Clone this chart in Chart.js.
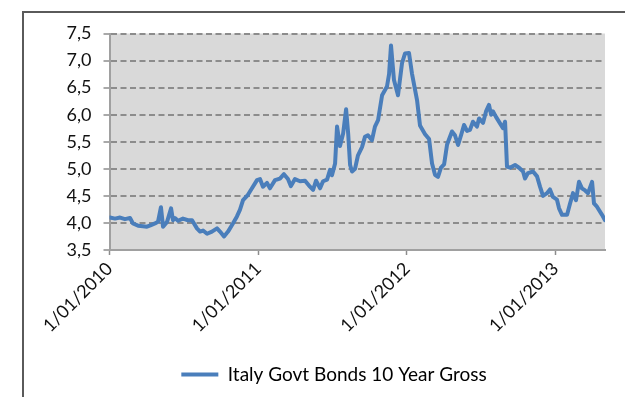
<!DOCTYPE html>
<html>
<head>
<meta charset="utf-8">
<script src="https://cdn.jsdelivr.net/npm/chart.js@4"></script>
<style>
  html, body { margin: 0; padding: 0; background: #fff; }
  .wrap { position: relative; width: 625px; height: 397px; overflow: hidden; }
  .frame { position: absolute; left: 22px; top: 11px; width: 700px; height: 500px;
           border-top: 2px solid #5a5a5a; border-left: 2px solid #5a5a5a; }
  canvas { position: absolute; left: 0; top: 0; }
</style>
</head>
<body>
<div class="wrap">
  <div class="frame"></div>
  <canvas id="bonds_chart" width="625" height="397"></canvas>
</div>
<script>
// fraction of year since 1 Jan 2010
const years = [
    0.003, 0.037, 0.071, 0.104, 0.138, 0.158, 0.192, 0.225, 0.252, 0.279,
    0.306, 0.326, 0.346, 0.360, 0.387, 0.414, 0.427, 0.440, 0.461, 0.494,
    0.528, 0.555, 0.588, 0.609, 0.629, 0.656, 0.689, 0.723, 0.743, 0.770,
    0.797, 0.830, 0.857, 0.877, 0.898, 0.931, 0.958, 0.992, 1.012, 1.032,
    1.059, 1.079, 1.113, 1.146, 1.173, 1.200, 1.220, 1.247, 1.281, 1.315,
    1.348, 1.369, 1.389, 1.416, 1.436, 1.463, 1.483, 1.496, 1.517, 1.530,
    1.550, 1.571, 1.591, 1.605, 1.618, 1.631, 1.651, 1.671, 1.698, 1.718,
    1.738, 1.765, 1.785, 1.806, 1.833, 1.866, 1.880, 1.893, 1.913, 1.940,
    1.967, 1.987, 2.014, 2.034, 2.068, 2.088, 2.122, 2.149, 2.169, 2.189,
    2.209, 2.229, 2.250, 2.270, 2.303, 2.323, 2.344, 2.364, 2.384, 2.404,
    2.424, 2.444, 2.471, 2.485, 2.512, 2.532, 2.552, 2.566, 2.579, 2.599,
    2.626, 2.646, 2.660, 2.673, 2.693, 2.727, 2.754, 2.781, 2.794, 2.814,
    2.848, 2.875, 2.895, 2.915, 2.942, 2.962, 2.982, 3.009, 3.023, 3.043,
    3.077, 3.097, 3.117, 3.137, 3.157, 3.177, 3.198, 3.218, 3.245, 3.258,
    3.278, 3.312, 3.332
]

// yield in percent
const yields = [
    4.10, 4.08, 4.10, 4.07, 4.09, 3.99, 3.95, 3.94, 3.93, 3.96,
    3.99, 4.02, 4.29, 3.93, 4.02, 4.27, 4.05, 4.09, 4.04, 4.08,
    4.05, 4.05, 3.90, 3.84, 3.86, 3.80, 3.84, 3.90, 3.84, 3.75,
    3.84, 3.99, 4.12, 4.24, 4.42, 4.52, 4.64, 4.79, 4.81, 4.67,
    4.74, 4.64, 4.79, 4.82, 4.90, 4.81, 4.68, 4.81, 4.77, 4.78,
    4.67, 4.61, 4.78, 4.64, 4.77, 4.80, 4.98, 4.88, 5.10, 5.78,
    5.42, 5.65, 6.10, 5.65, 5.07, 4.95, 5.00, 5.25, 5.40, 5.59,
    5.62, 5.53, 5.78, 5.90, 6.36, 6.52, 6.75, 7.28, 6.64, 6.36,
    6.95, 7.13, 7.14, 6.76, 6.27, 5.80, 5.64, 5.55, 5.10, 4.89,
    4.85, 5.02, 5.08, 5.45, 5.69, 5.62, 5.44, 5.62, 5.81, 5.70,
    5.72, 5.87, 5.78, 5.93, 5.85, 6.06, 6.18, 6.00, 6.06, 5.96,
    5.84, 5.75, 5.87, 5.04, 5.02, 5.07, 5.02, 4.95, 4.82, 4.92,
    4.95, 4.86, 4.67, 4.50, 4.55, 4.62, 4.48, 4.43, 4.27, 4.15,
    4.15, 4.36, 4.55, 4.42, 4.76, 4.64, 4.60, 4.55, 4.76, 4.36,
    4.30, 4.15, 4.05
]

const startYear = 2010
const tickYears = [2010, 2011, 2012, 2013]
const yTicks = [3.5, 4.0, 4.5, 5.0, 5.5, 6.0, 6.5, 7.0, 7.5]
const seriesLabel = 'Italy Govt Bonds 10 Year Gross'

const blue = '#4a7ebb'
const textColor = '#111111'
const font = "Lato, 'Open Sans', sans-serif"

const plotBackground = {
    id: 'plotBackground',
    beforeDraw(chart) {
        const { ctx, chartArea } = chart
        ctx.save()
        ctx.fillStyle = '#d9d9d9'
        ctx.fillRect(chartArea.left, chartArea.top, chartArea.right - chartArea.left, chartArea.bottom - chartArea.top)
        ctx.restore()
    }
}

// legend sits a bit right of the canvas centre
const legendShift = {
    id: 'legendShift',
    afterLayout(chart) {
        chart.legend.left += 20
        chart.legend.right += 20
    }
}

const data = {
    datasets: [{
        label: seriesLabel,
        data: years.map((y, i) => ({ x: startYear + y, y: yields[i] })),
        borderColor: blue,
        backgroundColor: blue,
        borderWidth: 4,
        pointRadius: 0,
        tension: 0,
        borderJoinStyle: 'round',
        borderCapStyle: 'round'
    }]
}

const config = {
    type: 'line',
    data: data,
    plugins: [plotBackground, legendShift],
    options: {
        responsive: false,
        animation: false,
        layout: { padding: { left: 23, right: 20, top: 33.5, bottom: 3 } },
        scales: {
            x: {
                type: 'linear',
                min: startYear,
                max: startYear + 3.332,
                afterBuildTicks: scale => {
                    scale.ticks = tickYears.map(v => ({ value: v }))
                },
                afterFit: scale => { scale.height = 105 },
                ticks: {
                    autoSkip: false,
                    minRotation: 45,
                    maxRotation: 45,
                    color: textColor,
                    font: { family: font, size: 18 },
                    callback: v => '1/01/' + v
                },
                grid: {
                    drawOnChartArea: false,
                    drawTicks: true,
                    tickLength: 5,
                    tickColor: '#8c8c8c',
                    tickWidth: 1.5
                },
                border: { color: '#a0a0a0', width: 2 }
            },
            y: {
                min: 3.5,
                max: 7.5,
                afterBuildTicks: scale => {
                    scale.ticks = yTicks.map(v => ({ value: v }))
                },
                afterFit: scale => { scale.width = 86.5 },
                ticks: {
                    color: textColor,
                    padding: 12,
                    font: { family: font, size: 18 },
                    callback: v => v.toFixed(1).replace('.', ',')
                },
                grid: {
                    color: ctx => ctx.tick && ctx.tick.value === 3.5 ? 'rgba(0,0,0,0)' : '#8c8c8c',
                    lineWidth: 2,
                    tickLength: 6,
                    tickColor: '#8c8c8c',
                    tickWidth: 1.5,
                    tickBorderDash: []
                },
                border: { color: '#a0a0a0', width: 2, dash: [6, 3.5] }
            }
        },
        plugins: {
            legend: {
                position: 'bottom',
                labels: {
                    color: textColor,
                    font: { family: font, size: 19 },
                    boxWidth: 37,
                    boxHeight: 4,
                    padding: 10,
                    generateLabels: chart => chart.data.datasets.map((ds, i) => ({
                        text: ds.label,
                        fillStyle: blue,
                        strokeStyle: blue,
                        lineWidth: 0,
                        datasetIndex: i,
                        hidden: false
                    }))
                }
            },
            tooltip: { enabled: false }
        }
    }
}

const ctx = document.getElementById('bonds_chart').getContext('2d')
const bondsChart = new Chart(ctx, config)
</script>
</body>
</html>
